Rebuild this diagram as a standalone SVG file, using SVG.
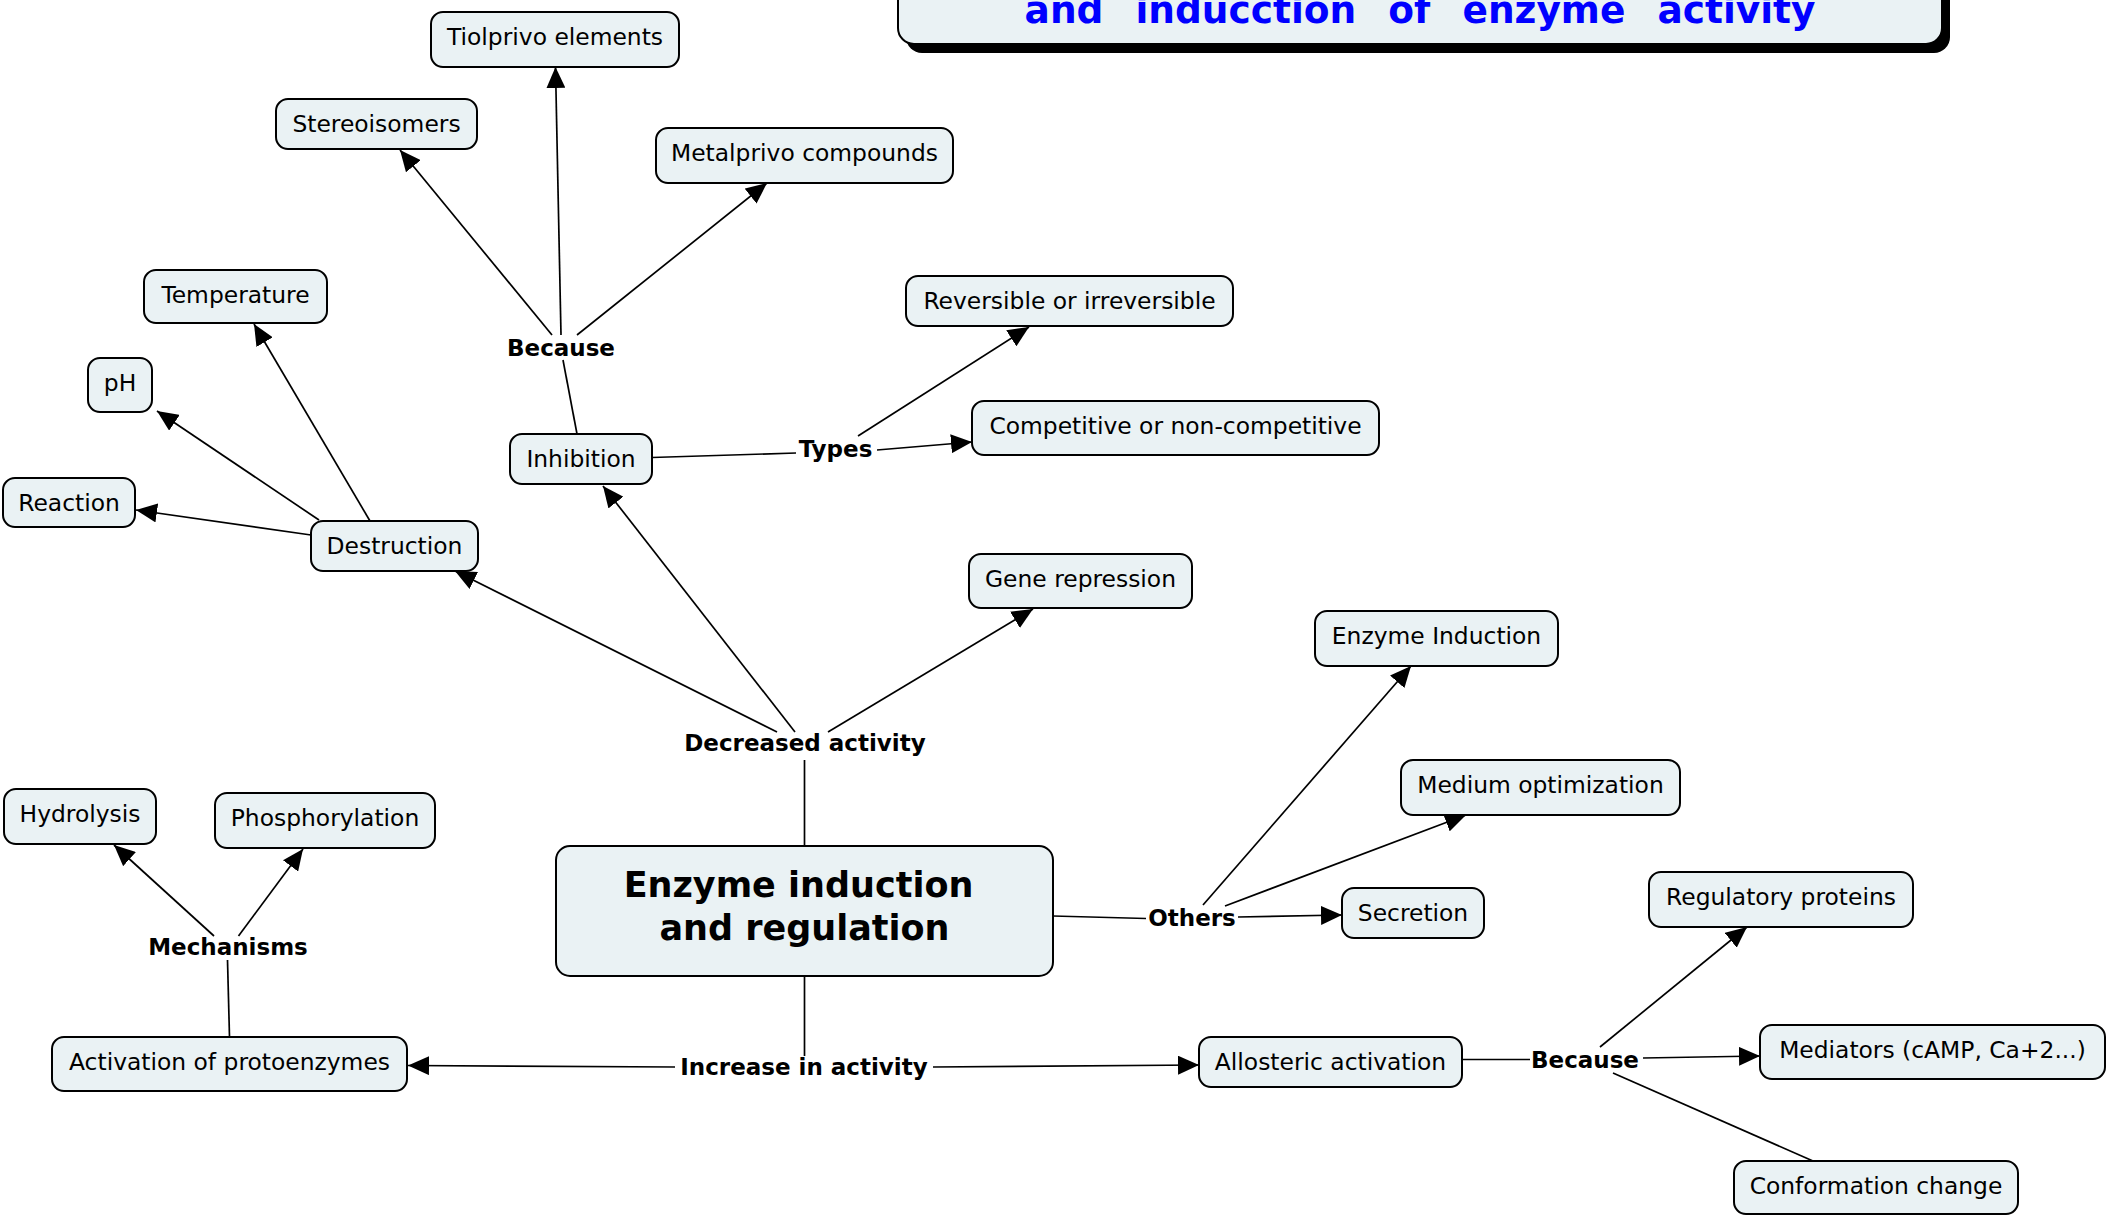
<svg xmlns="http://www.w3.org/2000/svg" width="2110" height="1215" viewBox="0 0 2110 1215">
  <defs>
    <marker id="arrow" markerUnits="userSpaceOnUse" markerWidth="21" markerHeight="19" refX="21" refY="9.5" orient="auto">
      <path d="M0,0 L21,9.5 L0,19 z" fill="#000"/>
    </marker>
    <style>
      .node rect { fill: #eaf2f4; stroke: #000; stroke-width: 2; }
      .node text { font-family: "DejaVu Sans", Verdana, sans-serif; font-size: 23.4px; fill: #000; text-anchor: middle; }
      .label text { font-family: "DejaVu Sans", Verdana, sans-serif; font-size: 23px; font-weight: bold; fill: #000; text-anchor: middle; }
      .main text { font-size: 35px; font-weight: bold; }
      .conn line { stroke: #000; stroke-width: 1.7; fill: none; }
      .conn line.arr { marker-end: url(#arrow); }
      .title-text { font-family: "DejaVu Sans", Verdana, sans-serif; font-size: 37.5px; font-weight: bold; fill: #0000ff; text-anchor: middle; word-spacing: 19px; }
    </style>
  </defs>
  <rect width="2110" height="1215" fill="#fff"/>

  <!-- title banner (top part runs off the page) -->
  <g id="title">
    <rect x="906" y="-91" width="1044" height="144" rx="16" fill="#000"/>
    <rect x="898" y="-100" width="1044" height="144" rx="16" fill="#eaf2f4" stroke="#000" stroke-width="2"/>
    <text class="title-text" x="1420" y="23">and inducction of enzyme activity</text>
  </g>

  <!-- connectors -->
  <g id="connectors" class="conn">
    <line x1="804.5" y1="846" x2="804.5" y2="760"/>
    <line class="arr" x1="777" y1="732" x2="455" y2="571"/>
    <line class="arr" x1="795" y1="732" x2="603" y2="486"/>
    <line class="arr" x1="828" y1="732" x2="1033" y2="609"/>
    <line x1="577" y1="434" x2="563" y2="360"/>
    <line class="arr" x1="552" y1="335" x2="400" y2="150"/>
    <line class="arr" x1="561" y1="335" x2="555.5" y2="67"/>
    <line class="arr" x1="577" y1="335" x2="767" y2="183"/>
    <line x1="652" y1="457.5" x2="796" y2="453"/>
    <line class="arr" x1="877" y1="450" x2="972" y2="442"/>
    <line class="arr" x1="858" y1="436" x2="1029" y2="327"/>
    <line class="arr" x1="311" y1="535" x2="136" y2="510"/>
    <line class="arr" x1="319" y1="520" x2="157" y2="411"/>
    <line class="arr" x1="370" y1="521" x2="254" y2="324"/>
    <line x1="1053" y1="916" x2="1146" y2="918.5"/>
    <line class="arr" x1="1238" y1="917" x2="1342" y2="915"/>
    <line class="arr" x1="1203" y1="905" x2="1411" y2="666"/>
    <line class="arr" x1="1225" y1="906" x2="1466" y2="815"/>
    <line x1="804.5" y1="976" x2="804.5" y2="1056"/>
    <line class="arr" x1="675" y1="1067" x2="408" y2="1065.5"/>
    <line class="arr" x1="933" y1="1067" x2="1199" y2="1065"/>
    <line x1="229.5" y1="1037" x2="227.5" y2="960"/>
    <line class="arr" x1="214" y1="936" x2="114" y2="845"/>
    <line class="arr" x1="238.5" y1="936" x2="303" y2="849"/>
    <line x1="1462" y1="1059.5" x2="1530" y2="1059.5"/>
    <line class="arr" x1="1600" y1="1047" x2="1747" y2="927"/>
    <line class="arr" x1="1643" y1="1058" x2="1760" y2="1056"/>
    <line x1="1613" y1="1073" x2="1813" y2="1161"/>
  </g>

  <!-- linking phrases -->
  <g id="lbl-because-1" class="label"><text x="561" y="356">Because</text></g>
  <g id="lbl-types" class="label"><text x="835.5" y="457">Types</text></g>
  <g id="lbl-decreased" class="label"><text x="805" y="751">Decreased activity</text></g>
  <g id="lbl-mechanisms" class="label"><text x="228" y="955">Mechanisms</text></g>
  <g id="lbl-others" class="label"><text x="1192" y="926">Others</text></g>
  <g id="lbl-increase" class="label"><text x="804" y="1075">Increase in activity</text></g>
  <g id="lbl-because-2" class="label"><text x="1585" y="1068">Because</text></g>

  <!-- concepts -->
  <g id="main" class="node main">
    <rect x="556" y="846" width="497" height="130" rx="14"/>
    <text x="798.5" y="897">Enzyme induction</text>
    <text x="804.5" y="940">and regulation</text>
  </g>
  <g id="tiolprivo" class="node"><rect x="431" y="12" width="248" height="55" rx="12"/><text x="555" y="45">Tiolprivo elements</text></g>
  <g id="stereoisomers" class="node"><rect x="276" y="99" width="201" height="50" rx="12"/><text x="376.5" y="132">Stereoisomers</text></g>
  <g id="metalprivo" class="node"><rect x="656" y="128" width="297" height="55" rx="12"/><text x="804.5" y="161">Metalprivo compounds</text></g>
  <g id="temperature" class="node"><rect x="144" y="270" width="183" height="53" rx="12"/><text x="235.5" y="303">Temperature</text></g>
  <g id="ph" class="node"><rect x="88" y="358" width="64" height="54" rx="12"/><text x="120" y="391">pH</text></g>
  <g id="reversible" class="node"><rect x="906" y="276" width="327" height="50" rx="12"/><text x="1069.5" y="309">Reversible or irreversible</text></g>
  <g id="competitive" class="node"><rect x="972" y="401" width="407" height="54" rx="12"/><text x="1175.5" y="434">Competitive or non-competitive</text></g>
  <g id="inhibition" class="node"><rect x="510" y="434" width="142" height="50" rx="12"/><text x="581" y="467">Inhibition</text></g>
  <g id="reaction" class="node"><rect x="3" y="478" width="132" height="49" rx="12"/><text x="69" y="511">Reaction</text></g>
  <g id="destruction" class="node"><rect x="311" y="521" width="167" height="50" rx="12"/><text x="394.5" y="554">Destruction</text></g>
  <g id="gene-repression" class="node"><rect x="969" y="554" width="223" height="54" rx="12"/><text x="1080.5" y="587">Gene repression</text></g>
  <g id="enzyme-induction" class="node"><rect x="1315" y="611" width="243" height="55" rx="12"/><text x="1436.5" y="644">Enzyme Induction</text></g>
  <g id="medium-optimization" class="node"><rect x="1401" y="760" width="279" height="55" rx="12"/><text x="1540.5" y="793">Medium optimization</text></g>
  <g id="hydrolysis" class="node"><rect x="4" y="789" width="152" height="55" rx="12"/><text x="80" y="822">Hydrolysis</text></g>
  <g id="phosphorylation" class="node"><rect x="215" y="793" width="220" height="55" rx="12"/><text x="325" y="826">Phosphorylation</text></g>
  <g id="secretion" class="node"><rect x="1342" y="888" width="142" height="50" rx="12"/><text x="1413" y="921">Secretion</text></g>
  <g id="regulatory-proteins" class="node"><rect x="1649" y="872" width="264" height="55" rx="12"/><text x="1781" y="905">Regulatory proteins</text></g>
  <g id="mediators" class="node"><rect x="1760" y="1025" width="345" height="54" rx="12"/><text x="1932.5" y="1058">Mediators (cAMP, Ca+2...)</text></g>
  <g id="allosteric" class="node"><rect x="1199" y="1037" width="263" height="50" rx="12"/><text x="1330.5" y="1070">Allosteric activation</text></g>
  <g id="protoenzymes" class="node"><rect x="52" y="1037" width="355" height="54" rx="12"/><text x="229.5" y="1070">Activation of protoenzymes</text></g>
  <g id="conformation" class="node"><rect x="1734" y="1161" width="284" height="53" rx="12"/><text x="1876" y="1194">Conformation change</text></g>
</svg>
